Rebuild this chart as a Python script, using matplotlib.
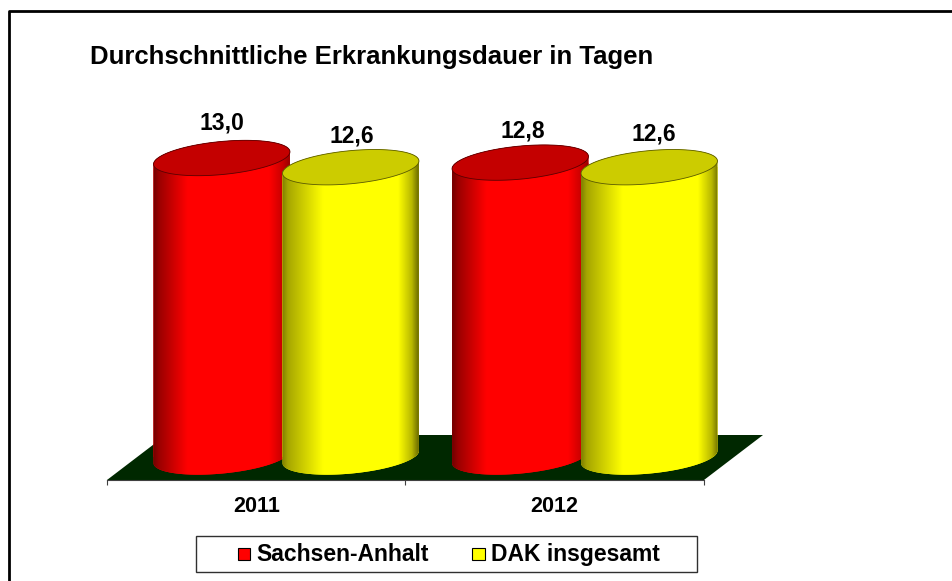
import numpy as np
import matplotlib
matplotlib.use("Agg")
import matplotlib.pyplot as plt
from matplotlib.path import Path
from matplotlib.patches import PathPatch, Polygon, Rectangle

plt.rcParams['font.family'] = ['Liberation Sans', 'DejaVu Sans']

categories = ['2011', '2012']
series_names = ['Sachsen-Anhalt', 'DAK insgesamt']
sachsen_anhalt = [13.0, 12.8]
dak_insgesamt = [12.6, 12.6]
value_labels = [['13,0', '12,8'], ['12,6', '12,6']]
title = 'Durchschnittliche Erkrankungsdauer in Tagen'

W, H = 953, 581
fig = plt.figure(figsize=(W / 100, H / 100), dpi=100, facecolor='white')
ax_l, ax_r, ax_b, ax_t = 107, 704, 480, 100
ax = fig.add_axes([ax_l / W, 1 - ax_b / H, (ax_r - ax_l) / W, (ax_b - ax_t) / H])
PX_PER_UNIT = 23.0
BASE_PX = 457
y0 = -(ax_b - BASE_PX) / PX_PER_UNIT
y1 = y0 + (ax_b - ax_t) / PX_PER_UNIT
ax.set_xlim(-0.5, 1.5)
ax.set_ylim(y0, y1)
px_x = 1.0 / ((ax_r - ax_l) / 2.0)   # data units per pixel, x
px_y = 1.0 / PX_PER_UNIT             # data units per pixel, y
ax.patch.set_alpha(0)

# outer frame (top and left only visible)
fig.add_artist(plt.Line2D([9.5 / W, 9.5 / W, 1], [0, 1 - 10.5 / H, 1 - 10.5 / H],
                          color='black', lw=2.0, transform=fig.transFigure))

# floor
dx, dy = 59 * px_x, 45 * px_y
floor = Polygon([(-0.5, y0), (-0.5 + dx, y0 + dy), (1.5 + dx, y0 + dy), (1.5, y0)],
                closed=True, fc='#002800', ec='none', clip_on=False, zorder=1)
ax.add_patch(floor)

A, B, TILT = 68.5, 16.5, np.deg2rad(5.5)


def ellipse(cx, cy, t):
    ex = A * np.cos(t) * np.cos(TILT) - B * np.sin(t) * np.sin(TILT)
    ey = A * np.cos(t) * np.sin(TILT) + B * np.sin(t) * np.cos(TILT)
    return cx + ex * px_x, cy + ey * px_y


def gradient(rgb, stops_u, stops_s):
    u = np.linspace(0, 1, 200)
    s = np.interp(u, stops_u, stops_s)
    return (np.array(rgb)[None, None, :] * s[None, :, None]).clip(0, 1)


def cylinder(xc, value, rgb, top, edge, stops_u, stops_s, z):
    width = 2 * A * px_x
    bars = ax.bar(xc, value, width=width, bottom=0, color=top, linewidth=0, zorder=z)
    t1 = np.linspace(0, np.pi, 90)
    t2 = np.linspace(np.pi, 2 * np.pi, 90)
    xa, ya = ellipse(xc, value, t1)
    xb, yb = ellipse(xc, 0, t2)
    verts = np.column_stack([np.r_[xa, xb], np.r_[ya, yb]])
    body = PathPatch(Path(np.vstack([verts, verts[0]]), closed=True),
                     fc=rgb, ec='none', zorder=z + .1, clip_on=False)
    ax.add_patch(body)
    bars[0].set_clip_path(body)
    bars[0].set_clip_box(fig.bbox)
    hw = A * px_x
    im = ax.imshow(gradient(rgb, stops_u, stops_s), extent=(xc - hw, xc + hw, -2, value + 2),
                   aspect='auto', zorder=z + .2, interpolation='bilinear')
    im.set_clip_box(fig.bbox)
    im.set_clip_path(body)
    t = np.linspace(0, 2 * np.pi, 180)
    xt, yt = ellipse(xc, value, t)
    ax.add_patch(Polygon(np.column_stack([xt, yt]), closed=True, fc=top, ec=edge,
                         lw=0.6, zorder=z + .3, clip_on=False))


x = np.arange(len(categories))
off_red, off_yel = -0.1156, 0.3165
red_u, red_s = [0, .04, .25, .85, .95, 1], [.45, .6, 1, 1, .78, .6]
yel_u, yel_s = [0, .04, .3, .85, .95, 1], [.5, .65, 1, 1, .72, .42]
label_shift = {(0, 0): (0, 35), (1, 0): (1, 31), (0, 1): (3, 32), (1, 1): (5, 33)}
for i in x:
    cylinder(i + off_red, sachsen_anhalt[i], (1, 0, 0), '#c40000', '#5a0000', red_u, red_s, 3 + 2 * i)
    cylinder(i + off_yel, dak_insgesamt[i], (1, 1, 0), '#cccc00', '#5a5a00', yel_u, yel_s, 4 + 2 * i)
    for s_i, (xc, v) in enumerate(((i + off_red, sachsen_anhalt[i]), (i + off_yel, dak_insgesamt[i]))):
        sx, sy = label_shift[(s_i, int(i))]
        ax.text(xc + sx * px_x, v + sy * px_y, value_labels[s_i][i], ha='center', va='center',
                fontsize=16.5, fontweight='bold', color='black', zorder=20)

for s in ('top', 'left', 'right'):
    ax.spines[s].set_visible(False)
ax.spines['bottom'].set_color('#404040')
ax.spines['bottom'].set_linewidth(0.8)
ax.yaxis.set_visible(False)
ax.set_xticks([-0.5, 0.5, 1.5])
ax.set_xticklabels([])
ax.tick_params(axis='x', length=3.6, width=0.8, color='#404040')
for i, c in zip(x, categories):
    ax.annotate(c, (i, y0), xytext=(0, -26), textcoords='offset pixels', ha='center', va='center',
                fontsize=15.5, fontweight='bold', annotation_clip=False)

fig.text(90 / W, 1 - 57 / H, title, ha='left', va='center', fontsize=18.5, fontweight='bold')

# legend
fig.add_artist(Rectangle((196.5 / W, 1 - 571.5 / H), 500 / W, 36 / H, fc='white', ec='#303030',
                         lw=1.0, transform=fig.transFigure))
for mx, col, tx, name in ((238, '#ff0000', 256, series_names[0]), (472, '#ffff00', 491, series_names[1])):
    fig.add_artist(Rectangle((mx / W, 1 - 560 / H), 12.5 / W, 12.5 / H, fc=col, ec='black', lw=0.8,
                             transform=fig.transFigure))
    fig.text(tx / W, 1 - 554.5 / H, name, ha='left', va='center', fontsize=16.5, fontweight='bold')

fig.savefig('out.png', dpi=100)
